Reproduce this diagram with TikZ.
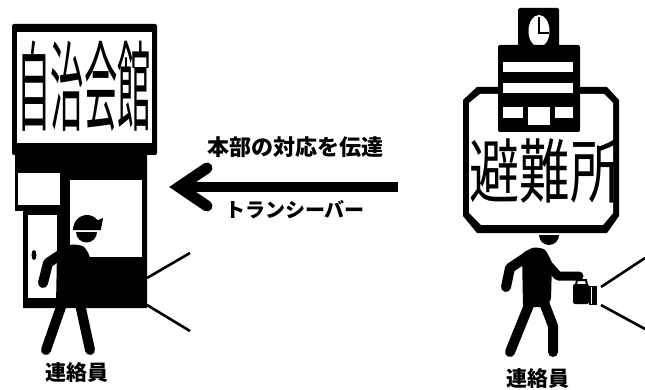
\documentclass[tikz,border=0pt]{standalone}
\usepackage{fontspec}
\usetikzlibrary{calc}
\newfontfamily\jp{Noto Sans CJK JP}
\begin{document}
\begin{tikzpicture}[x=1pt,y=-1pt,
  limb/.style={line width=#1, line cap=round, line join=round},
  limb/.default=9pt,
  ray/.style={line width=2.6pt},
  gap/.style={fill=white},
  caption/.style={font=\jp\bfseries\fontsize{21}{21}\selectfont, inner sep=0pt},
  arrowtext/.style={font=\jp\bfseries\fontsize{#1}{#1}\selectfont, inner sep=0pt},
  signtext/.style={font=\jp\fontsize{#1}{#1}\selectfont, inner sep=0pt},
]
\useasboundingbox (0,0) rectangle (645,390);

% ---------- community hall (left) ----------
\fill[rounded corners=2pt] (12,24) rectangle (157,155);
\fill (15,150) -- (147,150) -- (147,308) -- (23,308) -- (23,211) -- (15,211) -- cycle;
\fill[gap] (17,32) rectangle (152,143);
\fill[gap] (18,173) rectangle (60,205);
\fill[gap] (28,215) rectangle (57,298);
\fill[gap] (70,180) rectangle (142,257);
\fill (34,255) ellipse [x radius=2.5pt, y radius=5pt];
\node[signtext=98, xscale=0.34] (hall) at (84,86) {自治会館};

% messenger walking out of the hall
\fill (73,230) arc[start angle=180, end angle=0, x radius=14pt, y radius=15pt] -- cycle;
\fill (96,221) -- (103,218) -- (101,229) -- (96,229) -- cycle;
\fill (76,232) arc[start angle=180, end angle=360, radius=10.5pt] -- cycle;
\fill[rounded corners=3pt] (57,252) -- (72,244) -- (84,246) -- (90,256) -- (90,305) -- (56,305) -- cycle;
\draw[limb=10pt] (60,255) -- (48,263) -- (43,283);
\draw[limb=10pt] (62,304) -- (46,350);
\draw[limb=10pt] (80,304) -- (90,350);
\draw[ray] (147,278) -- (190,253);
\draw[ray] (147,305) -- (190,331);
\node[caption] (leftmsg) at (77,373) {連絡員};

% ---------- shelter (right) ----------
% helmet dome behind the sign edge
\fill (540,224) arc[start angle=180, end angle=0, x radius=10pt, y radius=8pt] -- cycle;
\fill (463,100) -- (477,87) -- (607,87) -- (619,100) -- (619,216) -- (607,233)
      -- (477,233) -- (463,216) -- cycle;
\fill[gap] (469,103) -- (480,94) -- (604,94) -- (613,103) -- (613,213) -- (603,225)
      -- (481,225) -- (469,213) -- cycle;
\node[signtext=70, xscale=0.72] (shelter) at (545,171) {避難所};
% clock tower
\fill[rounded corners=1.5pt] (518,8) rectangle (559,47);
\fill[gap] (539,31) ellipse [x radius=10.5pt, y radius=16pt];
\draw[line width=1.6pt] (539,17) -- (539,33) -- (549,33);
% building block
\fill[rounded corners=2pt] (498,45) rectangle (580,132);
\fill[gap] (503,62) rectangle (573,72);
\fill[gap] (503,83) rectangle (573,93);
\fill[gap] (503,107) rectangle (523,118);
\fill[gap] (528,107) rectangle (550,125);
\fill[gap] (555,107) rectangle (573,118);

% messenger with a torch
\fill (539,235) arc[start angle=180, end angle=360, radius=10pt] -- cycle;
\fill[rounded corners=3pt] (522,253) -- (534,247) -- (545,249) -- (552,262) -- (551,300)
      -- (546,307) -- (523,307) -- cycle;
\draw[limb=10pt] (528,256) -- (510,268) -- (506,287);
\draw[limb=9pt] (541,257) -- (558,276) -- (579,276);
\draw[limb=10pt] (531,300) -- (510,352);
\draw[limb=10pt] (543,300) -- (553,326) -- (553,352);
\fill[rounded corners=2pt] (573,284) rectangle (589,304);
\fill (589,286) rectangle (597,305);
\draw[white, line width=0.8pt] (591.5,287) -- (591.5,304);
\draw[line width=2pt] (576,285) -- (577,280) -- (586,280) -- (587,285);
\draw[ray] (601,287) -- (645,258);
\draw[ray] (601,305) -- (645,329);
\node[caption] (rightmsg) at (538,379) {連絡員};

% ---------- transceiver message ----------
\coordinate (from) at (398,187);
\coordinate (to) at (179,187);
\draw[line width=10pt] (from) -- (to);
\draw[line width=11pt, line cap=round, line join=miter] ($(to)+(28,-19)$) -- (to) -- ($(to)+(28,19)$);
\node[arrowtext=22] (msg) at (295,147) {本部の対応を伝達};
\node[arrowtext=20] (radio) at (295,210) {トランシーバー};
\end{tikzpicture}
\end{document}
